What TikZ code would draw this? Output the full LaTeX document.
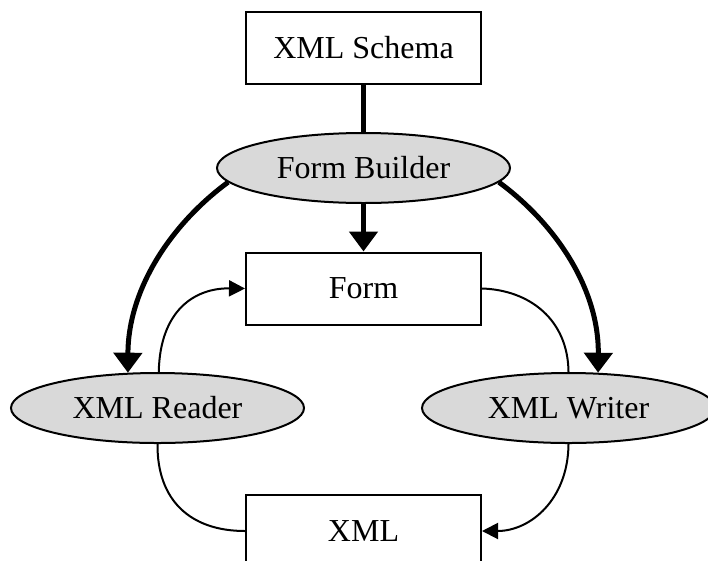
\documentclass[tikz,border=0pt]{standalone}
\usepackage{fontspec}
\setmainfont{Liberation Serif}
\usetikzlibrary{arrows.meta,shapes.geometric}
\definecolor{ellfill}{RGB}{217,217,217}
\begin{document}
\begin{tikzpicture}[x=1pt,y=-1pt,
  boxnode/.style={draw,line width=2pt,fill=white,minimum width=235pt,minimum height=72pt,inner sep=0pt,font=\fontsize{32}{38}\selectfont},
  ellnode/.style={draw,ellipse,line width=2pt,fill=ellfill,minimum width=293pt,minimum height=70pt,inner sep=0pt,font=\fontsize{32}{38}\selectfont},
  thick arrow/.style={line width=5pt,-{Triangle[width=28pt,length=20pt]}},
  thick line/.style={line width=5pt},
  thin arrow/.style={line width=2pt,-{Triangle[width=16pt,length=16pt]}},
  thin line/.style={line width=2pt}]
\useasboundingbox (0,0) rectangle (708,560);
\clip (0,0) rectangle (708,560);
\node[boxnode] (sch) at (363.5,48) {XML Schema};
\node[ellnode] (fb) at (363.5,168) {Form Builder};
\node[boxnode] (form) at (363.5,288.5) {Form};
\node[ellnode] (rd) at (157.5,408) {XML Reader};
\node[ellnode] (wr) at (568.5,408) {XML Writer};
\node[boxnode] (xml) at (363.5,531) {XML};
\draw[thick line] (sch.south) -- (fb.north);
\draw[thick arrow] (fb.south) -- (form.north);
\draw[thick arrow] (fb.186) .. controls (170,225) and (128,290) .. (rd.130);
\draw[thick arrow] (fb.354) .. controls (557,225) and (599,290) .. (wr.50);
\draw[thin arrow] (rd.88) .. controls (160,310) and (195,288) .. (form.west);
\draw[thin line] (form.east) .. controls (530,290) and (568,320) .. (wr.90);
\draw[thin line] (rd.270) .. controls (157,500) and (190,531) .. (xml.west);
\draw[thin arrow] (wr.270) .. controls (568,500) and (530,531) .. (xml.east);
\end{tikzpicture}
\end{document}
